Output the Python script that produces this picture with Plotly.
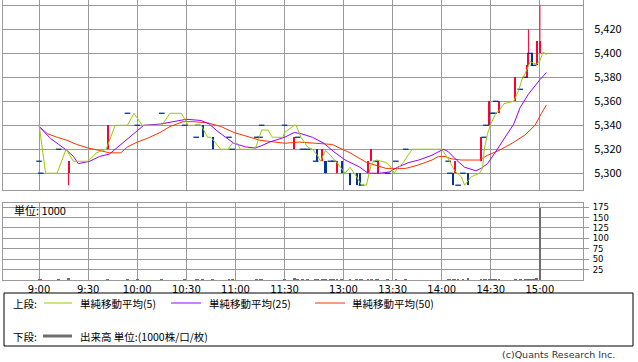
import plotly.graph_objects as go

DAY = "2024-01-05"

# ---------------- data ----------------
candle_time = ["09:00", "09:01", "09:12", "09:18", "09:42", "09:54", "10:00", "10:15", "10:29", "10:36",
               "10:37", "10:40", "10:46", "10:56", "10:58", "11:13", "11:15", "11:16", "11:30",
               "12:30", "12:32", "12:35", "12:38", "12:43", "12:44", "12:47", "12:49", "12:52", "12:54",
               "12:56", "12:59", "13:04", "13:08", "13:10", "13:11", "13:15", "13:17", "13:20", "13:21",
               "13:27", "13:32", "13:38",
               "14:04", "14:05", "14:07", "14:08", "14:10", "14:13", "14:16", "14:24", "14:26", "14:27",
               "14:29", "14:31", "14:32", "14:33", "14:35", "14:45", "14:48", "14:51", "14:52", "14:53",
               "14:54", "14:55", "14:56", "14:58", "15:00"]
candle_open = [5310, 5300, 5320, 5300, 5320, 5350, 5340, 5350, 5340, 5330,
               5340, 5340, 5330, 5330, 5320, 5330, 5330, 5340, 5340,
               5320, 5330, 5320, 5320, 5310, 5320, 5310, 5310, 5310, 5310,
               5300, 5310, 5300, 5300, 5300, 5290, 5300, 5310, 5310, 5300,
               5300, 5310, 5320,
               5310, 5300, 5300, 5300, 5290, 5300, 5300, 5310, 5330, 5340,
               5340, 5350, 5350, 5360, 5350, 5360, 5370, 5380, 5380, 5390,
               5400, 5400, 5390, 5390, 5400]
candle_high = [5310, 5300, 5320, 5310, 5340, 5350, 5340, 5350, 5340, 5330,
               5340, 5340, 5330, 5330, 5320, 5330, 5330, 5340, 5340,
               5330, 5330, 5320, 5320, 5310, 5320, 5320, 5310, 5310, 5310,
               5310, 5310, 5300, 5300, 5300, 5290, 5310, 5320, 5310, 5310,
               5300, 5310, 5320,
               5310, 5300, 5300, 5310, 5290, 5300, 5300, 5330, 5330, 5340,
               5360, 5350, 5350, 5360, 5360, 5380, 5370, 5380, 5390, 5420,
               5400, 5400, 5390, 5410, 5440]
candle_low = [5310, 5300, 5320, 5290, 5320, 5350, 5340, 5350, 5340, 5330,
              5340, 5330, 5320, 5330, 5320, 5330, 5330, 5340, 5340,
              5320, 5330, 5320, 5320, 5310, 5310, 5310, 5300, 5310, 5310,
              5300, 5300, 5290, 5290, 5290, 5290, 5300, 5310, 5310, 5300,
              5300, 5310, 5320,
              5310, 5300, 5290, 5300, 5290, 5300, 5290, 5310, 5330, 5340,
              5340, 5350, 5350, 5360, 5350, 5360, 5370, 5380, 5380, 5390,
              5400, 5390, 5390, 5390, 5400]
candle_close = [5310, 5300, 5320, 5310, 5340, 5350, 5340, 5350, 5340, 5330,
                5340, 5330, 5320, 5330, 5320, 5330, 5330, 5340, 5340,
                5330, 5330, 5320, 5320, 5310, 5310, 5320, 5300, 5310, 5310,
                5310, 5300, 5290, 5290, 5290, 5290, 5310, 5320, 5310, 5310,
                5300, 5310, 5320,
                5310, 5300, 5290, 5310, 5290, 5300, 5290, 5330, 5330, 5340,
                5360, 5350, 5350, 5360, 5360, 5380, 5370, 5380, 5390, 5400,
                5400, 5390, 5390, 5410, 5410]
volume = [1, 1, 1, 3, 1, 1, 1, 1, 1, 1,
          1, 1, 1, 1, 1, 1, 1, 1, 1,
          6, 1, 1, 1, 1, 1, 1, 1, 1, 1,
          1, 1, 1, 1, 1, 1, 1, 1, 1, 1,
          1, 1, 1,
          1, 1, 1, 1, 1, 1, 4, 2, 1, 1,
          2, 1, 1, 1, 1, 2, 1, 1, 2, 2,
          1, 1, 1, 3, 174]

ma5_time = ["09:00", "09:04", "09:11", "09:16:30", "09:21", "09:30", "09:35", "09:41", "09:46:30", "09:54",
            "09:58", "10:03", "10:15", "10:20", "10:27", "10:31", "10:39", "10:43", "10:45", "10:51",
            "10:55:30", "10:58", "11:01", "11:03", "11:12", "11:16", "11:20", "11:22:30", "11:29", "11:30",
            "12:30", "12:31", "12:34", "12:38", "12:41", "12:44", "12:46", "12:49", "12:52", "12:56:30",
            "13:01", "13:04", "13:08", "13:11", "13:14", "13:17", "13:20", "13:26", "13:29", "13:31",
            "13:33", "13:36", "13:40", "13:42", "14:00", "14:04", "14:08", "14:12", "14:14", "14:18",
            "14:23", "14:25", "14:26", "14:28", "14:30", "14:33", "14:35", "14:38", "14:44", "14:47",
            "14:49", "14:52", "14:54", "14:58", "15:00", "15:02", "15:04"]
ma5_value = [5341, 5300, 5300, 5320, 5310, 5310, 5317, 5320, 5340, 5340,
             5350, 5340, 5340, 5350, 5350, 5340, 5340, 5330, 5330, 5320,
             5320, 5325, 5325, 5320, 5320, 5336, 5336, 5330, 5330, 5334,
             5340, 5340, 5330, 5322, 5320, 5315, 5310, 5319, 5315, 5308,
             5300, 5305, 5297, 5290, 5290, 5308, 5311, 5309, 5305, 5300,
             5304, 5308, 5316, 5320, 5320, 5312, 5302, 5297, 5290, 5297,
             5300, 5304, 5320, 5333, 5341, 5350, 5352, 5358, 5360, 5369,
             5378, 5386, 5393, 5391, 5394, 5401, 5399]

ma25_time = ["09:00", "09:07", "09:12", "09:17", "09:21", "09:24", "09:31", "09:37", "09:43", "09:51",
             "09:58", "10:04", "10:14", "10:26", "10:30", "10:39", "10:44", "10:49", "10:54", "10:59",
             "11:06", "11:12", "11:16", "11:21", "11:30", "12:30", "12:34", "12:41", "12:48", "12:54",
             "13:01", "13:10", "13:15", "13:22", "13:28", "13:33", "13:40", "13:46", "13:54", "14:01",
             "14:04", "14:09", "14:14", "14:21", "14:24", "14:28", "14:33", "14:39", "14:44", "14:48",
             "14:53", "15:00", "15:04"]
ma25_value = [5339, 5329, 5324, 5319, 5314, 5308, 5310, 5314, 5316, 5325,
              5333, 5340, 5341, 5344, 5345, 5344, 5341, 5335, 5330, 5325,
              5322, 5321, 5323, 5326, 5330, 5334, 5333, 5330, 5325, 5318,
              5311, 5305, 5300, 5300, 5301, 5305, 5309, 5311, 5315, 5320,
              5318, 5311, 5305, 5302, 5304, 5308, 5318, 5330, 5341, 5355,
              5366, 5378, 5384]

ma50_time = ["09:00", "09:05", "09:11", "09:17", "09:23", "09:30", "09:37", "09:43", "09:50", "09:54",
             "10:00", "10:06", "10:14", "10:20", "10:28", "10:34", "10:43", "10:51", "10:59", "11:09",
             "11:15", "11:30", "12:33", "12:43", "12:53", "13:04", "13:14", "13:26", "13:38", "13:46",
             "13:54", "13:58", "14:02", "14:06", "14:12", "14:23", "14:28", "14:35", "14:43", "14:51",
             "14:57", "15:01", "15:04"]
ma50_value = [5339, 5333, 5330, 5327.5, 5324, 5321, 5319, 5317, 5317, 5322,
              5326, 5329, 5334, 5339, 5343, 5343, 5342, 5339, 5334, 5330,
              5327.5, 5325, 5326, 5325, 5324, 5317, 5309, 5304, 5304, 5307,
              5311, 5314, 5314, 5312, 5311, 5311, 5315, 5319, 5325, 5332,
              5340, 5350, 5357]

x_tick_times = ["09:00", "09:30", "10:00", "10:30", "11:00", "11:30", "13:00", "13:30", "14:00", "14:30", "15:00"]
x_tick_labels = ["9:00", "9:30", "10:00", "10:30", "11:00", "11:30", "13:00", "13:30", "14:00", "14:30", "15:00"]
price_ticks = [5300, 5320, 5340, 5360, 5380, 5400, 5420, 5440]
volume_ticks = [25, 50, 75, 100, 125, 150, 175]

# ---------------- styles ----------------
UP = "#ff0033"
DOWN = "#003399"
C5 = "#99cc00"
C25 = "#9900ff"
C50 = "#ff3300"
VOLC = "#6e6e6e"
GRID = "#9a9a9a"
FONT = "Noto Sans CJK JP"


def T(s):
    return f"{DAY} {s}"


fig = go.Figure()

# candle bodies and wicks
for kind, color in (("up", UP), ("down", DOWN)):
    idx = [i for i in range(len(candle_time))
           if (candle_close[i] > candle_open[i]) == (kind == "up") and candle_close[i] != candle_open[i]]
    wx, wy = [], []
    for i in idx:
        wx += [T(candle_time[i]), T(candle_time[i]), None]
        wy += [candle_low[i], candle_high[i], None]
    fig.add_trace(go.Scatter(x=wx, y=wy, mode="lines", line=dict(color=color, width=1),
                             hoverinfo="skip", showlegend=False, xaxis="x", yaxis="y"))
    fig.add_trace(go.Bar(x=[T(candle_time[i]) for i in idx],
                         base=[min(candle_open[i], candle_close[i]) for i in idx],
                         y=[abs(candle_close[i] - candle_open[i]) for i in idx],
                         width=75000, marker=dict(color=color, line=dict(width=0)),
                         hoverinfo="skip", showlegend=False, xaxis="x", yaxis="y"))

# unchanged (open == close) candles drawn as short dashes
dj = [i for i in range(len(candle_time)) if candle_close[i] == candle_open[i]]
fig.add_trace(go.Scatter(x=[T(candle_time[i]) for i in dj], y=[candle_close[i] for i in dj],
                         mode="markers",
                         marker=dict(symbol="line-ew", size=4, line=dict(color=DOWN, width=1.3)),
                         hoverinfo="skip", showlegend=False, xaxis="x", yaxis="y"))

# moving averages
for tt, vv, col in ((ma50_time, ma50_value, C50), (ma25_time, ma25_value, C25), (ma5_time, ma5_value, C5)):
    fig.add_trace(go.Scatter(x=[T(t) for t in tt], y=vv, mode="lines", line=dict(color=col, width=1),
                             hoverinfo="skip", showlegend=False, xaxis="x", yaxis="y"))

# volume
fig.add_trace(go.Bar(x=[T(t) for t in candle_time], y=volume, width=100000,
                     marker=dict(color=VOLC, line=dict(width=0)),
                     hoverinfo="skip", showlegend=False, xaxis="x2", yaxis="y2"))

rb = [dict(bounds=[T("11:33"), T("12:27")])]
xrange = [T("08:37:58"), T("15:26:20")]

H = 280.0  # plot area height in px (362 - margins)
W = 580.0


def py(p):
    return (H - p) / H


def px(p):
    return (p - 3) / W


axis_common = dict(showgrid=True, gridcolor=GRID, gridwidth=1, showline=True, linecolor=GRID,
                   linewidth=1, mirror=True, zeroline=False)

fig.update_layout(
    width=638, height=362,
    margin=dict(l=3, r=55, t=0, b=82),
    paper_bgcolor="white", plot_bgcolor="white",
    barmode="overlay", bargap=0,
    font=dict(family=FONT, size=11, color="#000000"),
    showlegend=False,
    xaxis=dict(domain=[0, 1], anchor="y", type="date", range=xrange, rangebreaks=rb,
               tickvals=[T(t) for t in x_tick_times], ticktext=x_tick_labels,
               showticklabels=False, ticks="", **axis_common),
    yaxis=dict(domain=[py(190), 1], anchor="x", side="right", range=[5286, 5444.5],
               tickvals=price_ticks, ticktext=[f"{v:,}" for v in price_ticks],
               ticks="", ticklabelstandoff=8, tickfont=dict(size=11, family=FONT), **axis_common),
    xaxis2=dict(domain=[0, 1], anchor="y2", type="date", range=xrange, rangebreaks=rb, matches="x",
                tickvals=[T(t) for t in x_tick_times], ticktext=x_tick_labels,
                ticks="", ticklabelstandoff=0,
                tickfont=dict(size=10, family="DejaVu Sans"), **axis_common),
    yaxis2=dict(domain=[0, py(203)], anchor="x2", side="right", range=[0, 185],
                tickvals=volume_ticks, ticks="outside", ticklen=5, tickcolor=GRID,
                ticklabelstandoff=2, tickfont=dict(size=8.5, family="DejaVu Sans"), **axis_common),
)

ann = []
ann.append(dict(text="単位: 1000", x=px(12), y=py(209.5), xref="paper", yref="paper",
                xanchor="left", yanchor="middle", showarrow=False, font=dict(size=11)))
row1, row2 = py(303), py(336)
ann.append(dict(text="上段:", x=px(11), y=row1, xref="paper", yref="paper", xanchor="left",
                yanchor="middle", showarrow=False, font=dict(size=10.5)))
ann.append(dict(text="下段:", x=px(11), y=row2, xref="paper", yref="paper", xanchor="left",
                yanchor="middle", showarrow=False, font=dict(size=10.5)))
legend_items = [("単純移動平均(5)", C5, 44, 72, 78),
                ("単純移動平均(25)", C25, 171, 201, 207),
                ("単純移動平均(50)", C50, 315, 345, 350)]
shapes = []
for label, col, x0, x1, xt in legend_items:
    shapes.append(dict(type="line", xref="paper", yref="paper", x0=px(x0), x1=px(x1), y0=row1, y1=row1,
                       line=dict(color=col, width=1)))
    ann.append(dict(text=label, x=px(xt), y=row1, xref="paper", yref="paper", xanchor="left",
                    yanchor="middle", showarrow=False, font=dict(size=10.5)))
shapes.append(dict(type="line", xref="paper", yref="paper", x0=px(43), x1=px(72), y0=row2, y1=row2,
                   line=dict(color=VOLC, width=3)))
ann.append(dict(text="出来高 単位:(1000株/口/枚)", x=px(78), y=row2, xref="paper", yref="paper",
                xanchor="left", yanchor="middle", showarrow=False, font=dict(size=10.5)))
shapes.append(dict(type="rect", xref="paper", yref="paper", x0=px(4), x1=px(633), y0=py(293), y1=py(346),
                   line=dict(color="#000000", width=1), fillcolor="rgba(0,0,0,0)"))
ann.append(dict(text="(c)Quants Research Inc.", x=px(617), y=py(354), xref="paper", yref="paper",
                xanchor="right", yanchor="middle", showarrow=False,
                font=dict(size=9.5, color="#333333", family="DejaVu Sans")))

fig.update_layout(annotations=ann, shapes=shapes)

fig.write_html("out.html")
